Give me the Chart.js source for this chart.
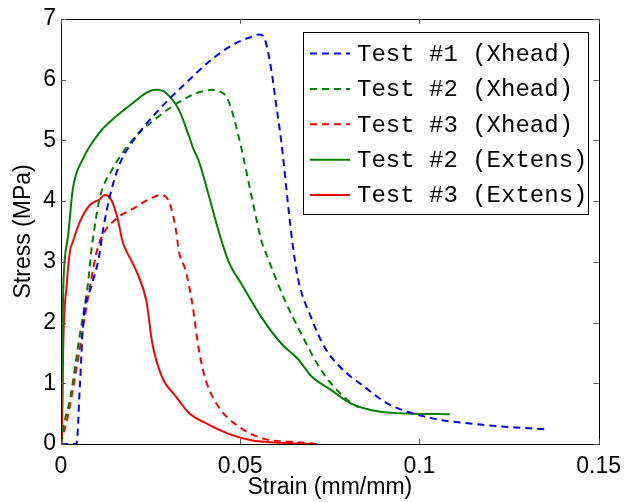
<!DOCTYPE html>
<html>
<head>
<meta charset="utf-8">
<script src="https://cdn.jsdelivr.net/npm/chart.js@4"></script>
<style>
  body { margin: 0; background: #fff; }
  #wrap { width: 630px; height: 502px; }
</style>
</head>
<body>
<div id="wrap"><canvas id="myChart" width="630" height="502"></canvas></div>
<script>
// strain (mm/mm) and stress (MPa)
var t1XheadX = [0, 0.0043, 0.0053, 0.0062, 0.0085, 0.0105, 0.0118, 0.0136, 0.0163, 0.0200, 0.0265, 0.0348, 0.0431, 0.0495, 0.0530, 0.0551, 0.0563, 0.0572, 0.0587, 0.0600, 0.0615, 0.0643, 0.0661, 0.0698, 0.0736, 0.0780, 0.0847, 0.0910, 0.1030, 0.1170, 0.1353];
var t1XheadY = [0, 0, 1.0, 2.0, 2.6, 3.05, 3.55, 4.07, 4.6, 4.98, 5.45, 5.94, 6.38, 6.62, 6.70, 6.74, 6.72, 6.60, 6.15, 5.6, 4.96, 3.44, 2.73, 2.08, 1.59, 1.26, 0.94, 0.67, 0.43, 0.32, 0.24];

var t2XheadX = [0, 0.0007, 0.0025, 0.0053, 0.0075, 0.0085, 0.0092, 0.0108, 0.0144, 0.0200, 0.0274, 0.0338, 0.0385, 0.0421, 0.0445, 0.0460, 0.0476, 0.0504, 0.0531, 0.0560, 0.0570, 0.0625, 0.0670, 0.0717, 0.0753, 0.0800, 0.0830];
var t2XheadY = [0, 0.29, 0.73, 1.82, 2.63, 3.2, 3.5, 4.05, 4.53, 5.01, 5.40, 5.66, 5.79, 5.83, 5.80, 5.73, 5.50, 4.85, 4.10, 3.33, 3.17, 2.36, 1.82, 1.30, 1.0, 0.72, 0.6];

var t3XheadX = [0, 0.0005, 0.0017, 0.0044, 0.0066, 0.0100, 0.0116, 0.0155, 0.0200, 0.0246, 0.0280, 0.0302, 0.0320, 0.0329, 0.0348, 0.0365, 0.0385, 0.0404, 0.0440, 0.0495, 0.0570, 0.0661, 0.0717];
var t3XheadY = [0, 0.13, 0.40, 1.27, 2.08, 3.17, 3.44, 3.71, 3.87, 4.03, 4.10, 3.98, 3.55, 3.17, 2.85, 2.36, 1.54, 1.05, 0.61, 0.29, 0.08, 0.03, 0.0];

var t2ExtensX = [0, 0.0003, 0.0006, 0.0010, 0.0020, 0.0033, 0.0061, 0.0108, 0.0155, 0.0200, 0.0238, 0.0265, 0.0293, 0.0329, 0.0357, 0.0368, 0.0385, 0.0412, 0.0440, 0.0468, 0.0504, 0.0560, 0.0615, 0.0661, 0.0698, 0.0753, 0.0808, 0.0891, 0.0985, 0.1085];
var t2ExtensY = [0, 1.5, 2.5, 3.0, 3.44, 4.2, 4.69, 5.13, 5.40, 5.61, 5.78, 5.83, 5.78, 5.50, 5.07, 4.88, 4.65, 4.10, 3.50, 3.00, 2.63, 2.08, 1.65, 1.40, 1.12, 0.89, 0.67, 0.53, 0.50, 0.49];

var t3ExtensX = [0, 0.0003, 0.0006, 0.0016, 0.0025, 0.0033, 0.0053, 0.0080, 0.0108, 0.0122, 0.0140, 0.0158, 0.0172, 0.0183, 0.0210, 0.0238, 0.0255, 0.0282, 0.0321, 0.0357, 0.0412, 0.0476, 0.0531, 0.0614, 0.0700];
var t3ExtensY = [0, 0.18, 1.54, 2.63, 3.17, 3.33, 3.66, 3.93, 4.03, 4.10, 4.02, 3.71, 3.33, 3.17, 2.85, 2.36, 1.65, 1.10, 0.78, 0.51, 0.32, 0.15, 0.06, 0.02, 0.0];

var labels = ['Test #1 (Xhead)', 'Test #2 (Xhead)', 'Test #3 (Xhead)', 'Test #2 (Extens)', 'Test #3 (Extens)'];
var xTicks = [0, 0.05, 0.1, 0.15];
var yTicks = [0, 1, 2, 3, 4, 5, 6, 7];

function pts(xs, ys) {
    var out = [];
    for (var i = 0; i < xs.length; i++) {
        out.push({ x: xs[i], y: ys[i] });
    }
    return out;
}

function ds(label, xs, ys, color, dashed) {
    return {
        label: label,
        data: pts(xs, ys),
        borderColor: color,
        backgroundColor: color,
        borderWidth: 2,
        borderDash: dashed ? [7, 5] : [],
        pointRadius: 0,
        cubicInterpolationMode: 'monotone',
        fill: false
    };
}

// box, inward ticks and the legend, MATLAB style
var matlabBox = {
    id: 'matlabBox',
    afterDraw: function (chart) {
        var ctx = chart.ctx;
        var a = chart.chartArea;
        var xs = chart.scales.x, ys = chart.scales.y;
        ctx.save();
        ctx.strokeStyle = '#000';
        ctx.lineWidth = 1;
        ctx.setLineDash([]);
        ctx.strokeRect(Math.round(a.left) + 0.5, Math.round(a.top) + 0.5, Math.round(a.right - a.left), Math.round(a.bottom - a.top));
        ctx.strokeStyle = '#555';
        ctx.beginPath();
        xTicks.forEach(function (v) {
            var px = Math.round(xs.getPixelForValue(v)) + 0.5;
            ctx.moveTo(px, a.bottom); ctx.lineTo(px, a.bottom - 5);
            ctx.moveTo(px, a.top); ctx.lineTo(px, a.top + 5);
        });
        yTicks.forEach(function (v) {
            var py = Math.round(ys.getPixelForValue(v)) + 0.5;
            ctx.moveTo(a.left, py); ctx.lineTo(a.left + 5, py);
            ctx.moveTo(a.right, py); ctx.lineTo(a.right - 5, py);
        });
        ctx.stroke();

        // legend
        var bx = 303.5, by = 32.5, bw = 285, bh = 182;
        ctx.fillStyle = '#fff';
        ctx.fillRect(bx, by, bw, bh);
        ctx.strokeStyle = '#000';
        ctx.strokeRect(bx, by, bw, bh);
        ctx.font = '24px "Liberation Mono", "Courier New", monospace';
        ctx.textBaseline = 'middle';
        chart.data.datasets.forEach(function (d, i) {
            var y = 53.5 + i * 35.4;
            ctx.strokeStyle = d.borderColor;
            ctx.lineWidth = 2;
            ctx.setLineDash(d.borderDash);
            ctx.beginPath();
            ctx.moveTo(310, y); ctx.lineTo(350, y);
            ctx.stroke();
            ctx.fillStyle = '#000';
            ctx.fillText(d.label, 357, y + 1);
        });
        ctx.restore();
    }
};

const ctx = document.getElementById('myChart').getContext('2d');
const myChart = new Chart(ctx, {
    type: 'line',
    data: {
        datasets: [
            ds(labels[0], t1XheadX, t1XheadY, '#0000ff', true),
            ds(labels[1], t2XheadX, t2XheadY, '#008000', true),
            ds(labels[2], t3XheadX, t3XheadY, '#ff0000', true),
            ds(labels[3], t2ExtensX, t2ExtensY, '#008000', false),
            ds(labels[4], t3ExtensX, t3ExtensY, '#ff0000', false)
        ]
    },
    options: {
        responsive: false,
        animation: false,
        devicePixelRatio: 1,
        layout: { padding: { top: 16, right: 27, left: 0, bottom: 0 } },
        plugins: { legend: { display: false }, tooltip: { enabled: false } },
        scales: {
            x: {
                type: 'linear',
                min: 0, max: 0.15,
                afterFit: function (s) { s.height = 58; },
                afterBuildTicks: function (s) { s.ticks = xTicks.map(function (v) { return { value: v }; }); },
                grid: { display: false, drawTicks: false },
                border: { display: false },
                ticks: {
                    padding: 9,
                    color: '#000',
                    font: { family: 'Liberation Sans, Arial, sans-serif', size: 23 },
                    callback: function (v) { return String(+v.toFixed(2)); }
                },
                title: {
                    display: true,
                    text: 'Strain (mm/mm)',
                    color: '#000',
                    font: { family: 'Liberation Sans, Arial, sans-serif', size: 23 },
                    padding: { top: 0, bottom: 1 }
                }
            },
            y: {
                min: 0, max: 7,
                afterFit: function (s) { s.width = 61; },
                afterBuildTicks: function (s) { s.ticks = yTicks.map(function (v) { return { value: v }; }); },
                grid: { display: false, drawTicks: false },
                border: { display: false },
                ticks: {
                    padding: 5,
                    color: '#000',
                    font: { family: 'Liberation Sans, Arial, sans-serif', size: 23 }
                },
                title: {
                    display: true,
                    text: 'Stress (MPa)',
                    color: '#000',
                    font: { family: 'Liberation Sans, Arial, sans-serif', size: 23 },
                    padding: { top: 10, bottom: 0 }
                }
            }
        }
    },
    plugins: [matlabBox]
});
</script>
</body>
</html>
